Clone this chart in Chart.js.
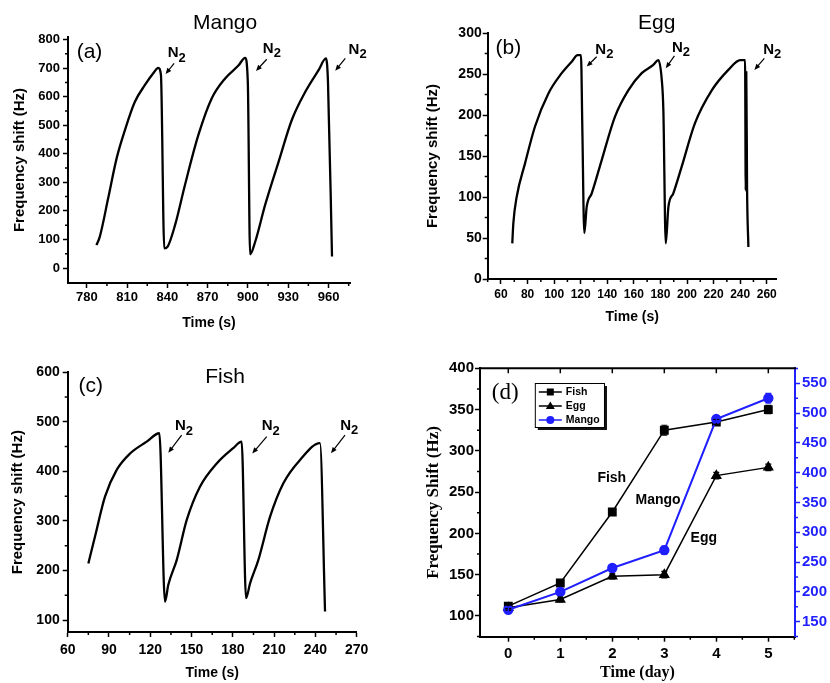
<!DOCTYPE html>
<html>
<head>
<meta charset="utf-8">
<script src="https://cdn.jsdelivr.net/npm/chart.js@4.4.1/dist/chart.umd.min.js"></script>
<style>
html, body { margin: 0; padding: 0; background: #fff; }
#wrap { position: relative; width: 830px; height: 683px; overflow: hidden; }
#wrap canvas { position: absolute; left: 0; top: 0; }
</style>
</head>
<body>
<div id="wrap">
  <canvas id="chartA" width="830" height="683"></canvas>
  <canvas id="chartB" width="830" height="683"></canvas>
  <canvas id="chartC" width="830" height="683"></canvas>
  <canvas id="chartD" width="830" height="683"></canvas>
</div>
<script>
// (a) Mango
const mangoTime = [787.2, 789.7, 795.9, 802.2, 808.4, 815.8, 823.3, 829.5, 833.2, 835.2, 837.7, 840.2, 845.7, 853.1, 863.1, 873, 883, 892.9, 897.9, 899.9, 901.6, 905.4, 912.8, 922.8, 932.8, 942.7, 952.6, 958.1, 959.6, 962.6];
const mangoShift = [80, 110, 244, 384, 483, 582, 641, 682, 701, 676, 69, 75, 150, 291, 466, 594, 664, 709, 736, 652, 48, 92, 221, 372, 520, 617, 693, 734, 652, 40];
const mangoXTicks = [780, 810, 840, 870, 900, 930, 960];
const mangoYTicks = [0, 100, 200, 300, 400, 500, 600, 700, 800];

// (b) Egg
const eggTime = [68.5, 69.3, 71.8, 78.1, 85.6, 95.6, 105.7, 113.2, 117.7, 120.2, 121.2, 122.7, 124.5, 128.3, 135.8, 145.8, 155.8, 165.9, 174.6, 178.4, 181, 182.2, 184, 186, 189.7, 196, 206, 218.6, 231.1, 240, 243.7, 244.2, 244.6, 245.2, 246.2];
const eggShift = [43.5, 68, 100, 141, 186, 226, 251, 265, 273, 273, 186, 56, 88, 104.5, 145, 198, 230, 251, 261, 267, 243, 206, 43.5, 88, 104.5, 137, 190, 230, 255, 267, 267, 108, 252, 110, 39];
const eggXTicks = [60, 80, 100, 120, 140, 160, 180, 200, 220, 240, 260];
const eggYTicks = [0, 50, 100, 150, 200, 250, 300];

// (c) Fish
const fishTime = [75, 79.8, 87.1, 95.6, 105.3, 117.4, 126.6, 130.7, 133.1, 139.2, 146.5, 156.1, 168.3, 180.3, 186.4, 189.6, 192.5, 198.5, 207, 216.7, 228.8, 243.3, 247];
const fishShift = [214, 268, 349, 403, 436, 460, 477, 137, 171, 221, 302, 369, 416, 447, 460, 144, 174, 221, 308, 376, 423, 457, 117];
const fishXTicks = [60, 90, 120, 150, 180, 210, 240, 270];
const fishYTicks = [100, 200, 300, 400, 500, 600];

// (d) storage days
const days = [0, 1, 2, 3, 4, 5];
const fishDay = [112, 140, 226, 325, 335, 350];
const fishErr = [3, 3, 4, 6, 3, 5];
const eggDay = [110, 120, 148, 150, 270, 280];
const eggErr = [3, 3, 3, 4, 4, 4];
const mangoDay = [170, 200, 240, 270, 490, 525];
const mangoErr = [5, 5, 6, 7, 5, 8];
const dayTicks = [0, 1, 2, 3, 4, 5];
const leftTicks = [100, 150, 200, 250, 300, 350, 400];
const rightTicks = [150, 200, 250, 300, 350, 400, 450, 500, 550];

const SANS = '"Liberation Sans", Arial, sans-serif';
const SERIF = '"Liberation Serif", "Times New Roman", serif';
const BLUE = '#1f1fff';

const decor = {
  id: 'decor',
  afterDatasetsDraw(chart) {
    const ctx = chart.ctx;
    chart.data.datasets.forEach((ds, i) => {
      if (!ds.err) return;
      const meta = chart.getDatasetMeta(i);
      const ys = chart.scales[meta.yAxisID];
      ctx.save();
      ctx.strokeStyle = ds.borderColor;
      ctx.lineWidth = 1.2;
      meta.data.forEach((pt, j) => {
        const v = ds.data[j].y, e = ds.err[j];
        const t = ys.getPixelForValue(v + e), b = ys.getPixelForValue(v - e);
        ctx.beginPath();
        ctx.moveTo(pt.x, t); ctx.lineTo(pt.x, b);
        ctx.moveTo(pt.x - 3, t); ctx.lineTo(pt.x + 3, t);
        ctx.moveTo(pt.x - 3, b); ctx.lineTo(pt.x + 3, b);
        ctx.stroke();
      });
      ctx.restore();
    });
  },
  afterDraw(chart, args, o) {
    const ctx = chart.ctx, area = chart.chartArea;
    const sx = chart.scales.x, sy = chart.scales.y;
    ctx.save();
    // minor ticks
    (o.minor || []).forEach(m => {
      const s = chart.scales[m.id];
      ctx.strokeStyle = m.color || '#000';
      ctx.lineWidth = 1.5;
      ctx.beginPath();
      for (let k = 0; k < 200; k++) {
        const v = m.from + k * m.step;
        if (v > s.max + 1e-9) break;
        if (v < s.min) continue;
        const p = s.getPixelForValue(v);
        if (m.side === 'bottom') { ctx.moveTo(p, area.bottom); ctx.lineTo(p, area.bottom + m.len); }
        else if (m.side === 'top') { ctx.moveTo(p, area.top); ctx.lineTo(p, area.top + m.len); }
        else if (m.side === 'left') { ctx.moveTo(area.left, p); ctx.lineTo(area.left - m.len, p); }
        else { ctx.moveTo(area.right, p); ctx.lineTo(area.right + m.len, p); }
      }
      ctx.stroke();
    });
    if (o.topBorder) {
      ctx.strokeStyle = '#000';
      ctx.lineWidth = 2;
      ctx.beginPath();
      ctx.moveTo(area.left - 1, area.top);
      ctx.lineTo(area.right + 1, area.top);
      ctx.stroke();
    }
    // text notes
    (o.notes || []).forEach(n => {
      const px = sx.getPixelForValue(n.x), py = sy.getPixelForValue(n.y);
      ctx.fillStyle = n.color || '#000';
      ctx.textBaseline = 'middle';
      if (n.sub) {
        ctx.font = n.font;
        const w1 = ctx.measureText(n.text).width;
        ctx.font = n.subFont;
        const w2 = ctx.measureText(n.sub).width;
        const x0 = px - (w1 + w2) / 2;
        ctx.textAlign = 'left';
        ctx.font = n.font;
        ctx.fillText(n.text, x0, py);
        ctx.font = n.subFont;
        ctx.fillText(n.sub, x0 + w1, py + 5);
      } else {
        ctx.font = n.font;
        ctx.textAlign = 'center';
        ctx.fillText(n.text, px, py);
      }
    });
    // arrows
    (o.arrows || []).forEach(a => {
      const x1 = sx.getPixelForValue(a[0]), y1 = sy.getPixelForValue(a[1]);
      const x2 = sx.getPixelForValue(a[2]), y2 = sy.getPixelForValue(a[3]);
      const ang = Math.atan2(y2 - y1, x2 - x1);
      ctx.strokeStyle = '#000';
      ctx.fillStyle = '#000';
      ctx.lineWidth = 1.2;
      ctx.beginPath();
      ctx.moveTo(x1, y1);
      ctx.lineTo(x2 - 3 * Math.cos(ang), y2 - 3 * Math.sin(ang));
      ctx.stroke();
      ctx.beginPath();
      ctx.moveTo(x2, y2);
      ctx.lineTo(x2 - 6 * Math.cos(ang) + 2.5 * Math.sin(ang), y2 - 6 * Math.sin(ang) - 2.5 * Math.cos(ang));
      ctx.lineTo(x2 - 6 * Math.cos(ang) - 2.5 * Math.sin(ang), y2 - 6 * Math.sin(ang) + 2.5 * Math.cos(ang));
      ctx.closePath();
      ctx.fill();
    });
    // legend box
    if (o.legend) {
      const L = sx.getPixelForValue(o.legend.x1), T = sy.getPixelForValue(o.legend.y1);
      const R = sx.getPixelForValue(o.legend.x2), B = sy.getPixelForValue(o.legend.y2);
      ctx.fillStyle = '#111';
      ctx.fillRect(L + 3, T + 3, R - L, B - T);
      ctx.fillStyle = '#fff';
      ctx.fillRect(L, T, R - L, B - T);
      ctx.strokeStyle = '#000';
      ctx.lineWidth = 1;
      ctx.strokeRect(L + 0.5, T + 0.5, R - L, B - T);
      o.legend.order.forEach((di, row) => {
        const ds = chart.data.datasets[di];
        const cy = T + 9 + row * 14;
        ctx.strokeStyle = ds.borderColor;
        ctx.fillStyle = ds.backgroundColor;
        ctx.lineWidth = 1.5;
        ctx.beginPath();
        ctx.moveTo(L + 4, cy); ctx.lineTo(L + 27, cy);
        ctx.stroke();
        const mx = L + 15.5;
        ctx.beginPath();
        if (ds.pointStyle === 'rect') ctx.rect(mx - 3.5, cy - 3.5, 7, 7);
        else if (ds.pointStyle === 'triangle') { ctx.moveTo(mx, cy - 4.5); ctx.lineTo(mx + 4.5, cy + 3); ctx.lineTo(mx - 4.5, cy + 3); ctx.closePath(); }
        else ctx.arc(mx, cy, 4, 0, Math.PI * 2);
        ctx.fill();
        ctx.fillStyle = '#000';
        ctx.font = 'bold 10.5px ' + SANS;
        ctx.textAlign = 'left';
        ctx.textBaseline = 'middle';
        ctx.fillText(ds.label, L + 31, cy + 0.5);
      });
    }
    ctx.restore();
  }
};

function fixedTicks(list) {
  return s => { s.ticks = list.map(v => ({ value: v })); };
}

function curveChart(id, p) {
  new Chart(document.getElementById(id), {
    type: 'scatter',
    data: {
      datasets: [{
        data: p.xs.map((x, i) => ({ x: x, y: p.ys[i] })),
        showLine: true,
        borderColor: '#000',
        borderWidth: 2.3,
        pointRadius: 0,
        cubicInterpolationMode: 'monotone'
      }]
    },
    options: {
      responsive: false,
      animation: false,
      events: [],
      layout: {
        padding: { left: p.area.l - p.yW, top: p.area.t, right: 830 - p.area.r, bottom: 683 - p.area.b - p.xH }
      },
      plugins: {
        legend: { display: false },
        tooltip: { enabled: false },
        decor: { minor: p.minor, notes: p.notes, arrows: p.arrows }
      },
      scales: {
        x: {
          type: 'linear',
          min: p.xMin, max: p.xMax,
          afterBuildTicks: fixedTicks(p.xTicks),
          afterFit: s => { s.height = p.xH; },
          grid: { drawOnChartArea: false, tickLength: 5, tickWidth: 1.5, color: '#000' },
          border: { color: '#000', width: 2 },
          ticks: { color: '#000', autoSkip: false, maxRotation: 0, padding: p.xPad, font: { family: SANS, size: p.xFont, weight: 'bold' } },
          title: { display: true, text: 'Time (s)', color: '#000', padding: { top: 0, bottom: p.xTitlePad }, font: { family: SANS, size: 14, weight: 'bold' } }
        },
        y: {
          type: 'linear',
          min: p.yMin, max: p.yMax,
          afterBuildTicks: fixedTicks(p.yTicks),
          afterFit: s => { s.width = p.yW; },
          grid: { drawOnChartArea: false, tickLength: 5, tickWidth: 1.5, color: '#000' },
          border: { color: '#000', width: 2 },
          ticks: { color: '#000', autoSkip: false, padding: p.yPad, font: { family: SANS, size: p.yFont, weight: 'bold' } },
          title: { display: true, text: 'Frequency shift (Hz)', color: '#000', padding: { top: 4, bottom: 0 }, font: { family: SANS, size: 15, weight: 'bold' } }
        }
      }
    },
    plugins: [decor]
  });
}

const titleFont = '21px ' + SANS;
const n2Font = 'bold 15px ' + SANS;
const n2Sub = 'bold 13px ' + SANS;
function n2(x, y) { return { x: x, y: y, text: 'N', sub: '2', font: n2Font, subFont: n2Sub }; }

curveChart('chartA', {
  xs: mangoTime, ys: mangoShift, xTicks: mangoXTicks, yTicks: mangoYTicks,
  xMin: 766, xMax: 976, yMin: -52.5, yMax: 809,
  area: { l: 68, t: 37, r: 350, b: 283 }, yW: 61, xH: 52.4,
  xPad: 2, yPad: 3, xFont: 13, yFont: 13, xTitlePad: 4,
  minor: [{ id: 'x', from: 795, step: 30, len: 3, side: 'bottom' }, { id: 'y', from: 50, step: 100, len: 3, side: 'left' }],
  notes: [
    { x: 883, y: 858, text: 'Mango', font: titleFont },
    { x: 782, y: 756, text: '(a)', font: titleFont },
    n2(847, 752), n2(917.8, 768), n2(981.7, 765)
  ],
  arrows: [[845, 717, 838.7, 679], [914, 731, 906, 690], [972.5, 734, 965, 691]]
});

curveChart('chartB', {
  xs: eggTime, ys: eggShift, xTicks: eggXTicks, yTicks: eggYTicks,
  xMin: 50, xMax: 267.5, yMin: 0, yMax: 300,
  area: { l: 487.7, t: 33, r: 776.7, b: 279 }, yW: 67.4, xH: 50.1,
  xPad: 3, yPad: 1, xFont: 12, yFont: 14, xTitlePad: 4,
  minor: [{ id: 'x', from: 50, step: 20, len: 3, side: 'bottom' }, { id: 'y', from: 25, step: 50, len: 3, side: 'left' }],
  notes: [
    { x: 177.2, y: 311.8, text: 'Egg', font: titleFont },
    { x: 65.5, y: 281, text: '(b)', font: titleFont },
    n2(137.8, 280), n2(195.5, 282), n2(264.2, 280)
  ],
  arrows: [[132, 271, 124.5, 259], [190.5, 272, 184, 257], [258.2, 269, 250.7, 255]]
});

curveChart('chartC', {
  xs: fishTime, ys: fishShift, xTicks: fishXTicks, yTicks: fishYTicks,
  xMin: 60, xMax: 270, yMin: 75.8, yMax: 600,
  area: { l: 67.7, t: 372.3, r: 356.7, b: 632 }, yW: 62.4, xH: 49.7,
  xPad: 5, yPad: 3, xFont: 14, yFont: 14, xTitlePad: 0,
  minor: [{ id: 'x', from: 75, step: 30, len: 3, side: 'bottom' }, { id: 'y', from: 150, step: 100, len: 3, side: 'left' }],
  notes: [
    { x: 174.3, y: 591, text: 'Fish', font: titleFont },
    { x: 76.7, y: 571, text: '(c)', font: titleFont },
    n2(144.5, 491), n2(207.5, 491), n2(264.6, 492)
  ],
  arrows: [[142.8, 473, 133.1, 437.7], [204.6, 470, 194.1, 436], [261.5, 473, 251.3, 436.5]]
});

// (d) frequency shift versus storage day
const toPts = arr => days.map((d, i) => ({ x: d, y: arr[i] }));
new Chart(document.getElementById('chartD'), {
  type: 'scatter',
  data: {
    datasets: [
      { label: 'Fish', data: toPts(fishDay), err: fishErr, showLine: true, borderColor: '#000', backgroundColor: '#000', borderWidth: 1.5, pointStyle: 'rect', pointRadius: 5.2, yAxisID: 'y', order: 2 },
      { label: 'Egg', data: toPts(eggDay), err: eggErr, showLine: true, borderColor: '#000', backgroundColor: '#000', borderWidth: 1.5, pointStyle: 'triangle', pointRadius: 5, yAxisID: 'y', order: 1 },
      { label: 'Mango', data: toPts(mangoDay), err: mangoErr, showLine: true, borderColor: BLUE, backgroundColor: BLUE, borderWidth: 2, pointStyle: 'circle', pointRadius: 4.2, yAxisID: 'y2', order: 0 }
    ]
  },
  options: {
    responsive: false,
    animation: false,
    events: [],
    layout: { padding: { left: 419.1, top: 368.3, right: 0, bottom: 0.1 } },
    plugins: {
      legend: { display: false },
      tooltip: { enabled: false },
      decor: {
        topBorder: true,
        minor: [
          { id: 'x', from: 0.5, step: 1, len: 3, side: 'bottom' },
          { id: 'x', from: 0, step: 1, len: 5, side: 'top' },
          { id: 'y', from: 75, step: 50, len: 3, side: 'left' },
          { id: 'y2', from: 125, step: 50, len: 3, side: 'right', color: BLUE }
        ],
        notes: [
          { x: -0.06, y: 370, text: '(d)', font: '23px ' + SERIF },
          { x: 1.99, y: 267, text: 'Fish', font: 'bold 14px ' + SANS },
          { x: 2.88, y: 240.5, text: 'Mango', font: 'bold 14px ' + SANS },
          { x: 3.76, y: 194.5, text: 'Egg', font: 'bold 14px ' + SANS }
        ],
        legend: { x1: 0.51, y1: 382.2, x2: 1.84, y2: 328.9, order: [0, 1, 2] }
      }
    },
    scales: {
      x: {
        type: 'linear', min: -0.544, max: 5.513,
        afterBuildTicks: fixedTicks(dayTicks),
        afterFit: s => { s.height = 46.2; },
        grid: { drawOnChartArea: false, tickLength: 5, tickWidth: 1.5, color: '#000' },
        border: { color: '#000', width: 2 },
        ticks: { color: '#000', autoSkip: false, maxRotation: 0, padding: 3, font: { family: SANS, size: 15, weight: 'bold' } },
        title: { display: true, text: 'Time (day)', color: '#000', padding: { top: 0, bottom: 0 }, font: { family: SERIF, size: 16, weight: 'bold' } }
      },
      y: {
        type: 'linear', position: 'left', min: 74.9, max: 400,
        afterBuildTicks: fixedTicks(leftTicks),
        afterFit: s => { s.width = 60.9; },
        grid: { drawOnChartArea: false, tickLength: 5, tickWidth: 1.5, color: '#000' },
        border: { color: '#000', width: 2 },
        ticks: { color: '#000', autoSkip: false, padding: 1, font: { family: SANS, size: 15, weight: 'bold' } },
        title: { display: true, text: 'Frequency Shift (Hz)', color: '#000', padding: { top: 4, bottom: 0 }, font: { family: SERIF, size: 17, weight: 'bold' } }
      },
      y2: {
        type: 'linear', position: 'right', min: 124.8, max: 575.2,
        afterBuildTicks: fixedTicks(rightTicks),
        afterFit: s => { s.width = 35; },
        grid: { drawOnChartArea: false, tickLength: 5, tickWidth: 1.5, color: BLUE },
        border: { color: BLUE, width: 2 },
        ticks: { color: BLUE, autoSkip: false, padding: 2, font: { family: SANS, size: 15, weight: 'bold' } }
      }
    }
  },
  plugins: [decor]
});
</script>
</body>
</html>
